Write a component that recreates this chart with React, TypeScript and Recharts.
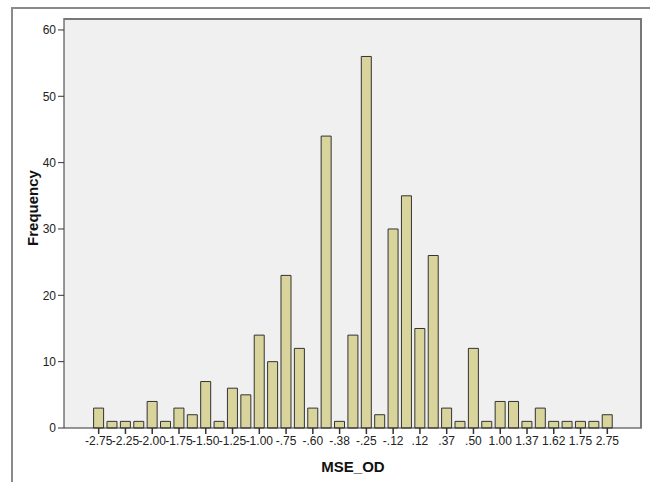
import React from 'react';
import { BarChart, Bar, XAxis, YAxis, CartesianGrid, Label } from 'recharts';

// MSE_OD bins (only every other one is labelled on the axis)
const bins = [
  '-2.75', '-2.50', '-2.25', '-2.12', '-2.00', '-1.88', '-1.75', '-1.62', '-1.50', '-1.38',
  '-1.25', '-1.12', '-1.00', '-.88', '-.75', '-.62', '-.60', '-.50', '-.38', '-.30',
  '-.25', '-.20', '-.12', '.00', '.12', '.25', '.37', '.38', '.50', '.62',
  '1.00', '1.12', '1.37', '1.50', '1.62', '1.70', '1.75', '2.00', '2.75',
];

const frequency = [
  3, 1, 1, 1, 4, 1, 3, 2, 7, 1,
  6, 5, 14, 10, 23, 12, 3, 44, 1, 14,
  56, 2, 30, 35, 15, 26, 3, 1, 12, 1,
  4, 4, 1, 3, 1, 1, 1, 1, 2,
];

const yTicks = [0, 10, 20, 30, 40, 50, 60];

const data = bins.map((b, i) => ({ bin: b, count: frequency[i] }));

const font = '"Liberation Sans", Arial, sans-serif';

export default function App() {
  return (
    <div style={{ position: 'absolute', left: 0, top: 0, width: 650, height: 482, background: '#fff', fontFamily: font }}>
      {/* outer frame */}
      <div style={{ position: 'absolute', left: 11, top: 7, width: 639, height: 475, borderTop: '2px solid #8a8a8a', borderLeft: '2px solid #8a8a8a' }} />
      <BarChart
        width={650}
        height={482}
        data={data}
        margin={{ top: 18, right: 8, bottom: 8, left: 0 }}
        barCategoryGap="12%"
      >
        <CartesianGrid horizontal={false} vertical={false} fill="#f0f0f0" />
        <XAxis
          dataKey="bin"
          interval={1}
          padding={{ left: 28, right: 28 }}
          height={46}
          stroke="#333"
          tickLine={{ stroke: '#333', strokeWidth: 1.5 }}
          tickSize={6}
          tick={{ fill: '#222', fontSize: 12, fontFamily: font }}
        >
          <Label value="MSE_OD" position="insideBottom" offset={2} style={{ fontWeight: 'bold', fontSize: 15, fill: '#111', fontFamily: font }} />
        </XAxis>
        <YAxis
          domain={[0, 61.8]}
          ticks={yTicks}
          width={64}
          stroke="#333"
          tickSize={6}
          tick={{ fill: '#222', fontSize: 12, fontFamily: font }}
        >
          <Label
            content={({ viewBox }: any) => (
              <text
                x={38}
                y={viewBox.y + viewBox.height / 2 - 15}
                transform={`rotate(-90, 38, ${viewBox.y + viewBox.height / 2 - 15})`}
                textAnchor="middle"
                style={{ fontWeight: 'bold', fontSize: 15, fill: '#111', fontFamily: font }}
              >
                Frequency
              </text>
            )}
          />
        </YAxis>
        <Bar dataKey="count" fill="#d8d49c" stroke="#333" strokeWidth={1} isAnimationActive={false} />
      </BarChart>
      {/* plot box border */}
      <div style={{ position: 'absolute', left: 64, top: 18, width: 578, height: 410, boxSizing: 'border-box', borderTop: '2px solid #777', borderRight: '2px solid #777', pointerEvents: 'none' }} />
    </div>
  );
}
